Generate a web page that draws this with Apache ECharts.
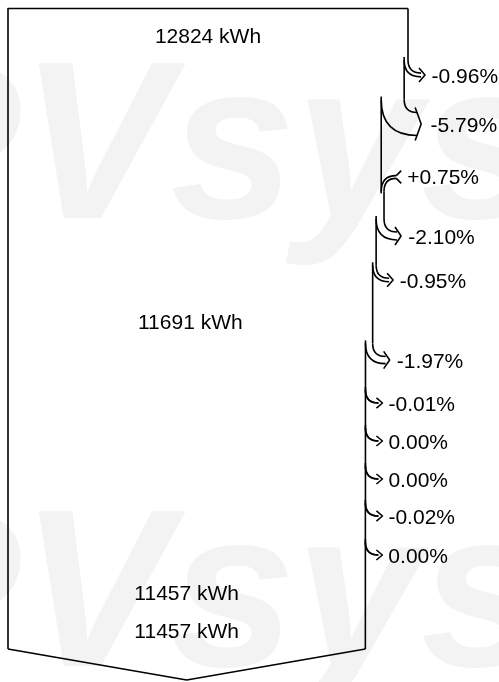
<!DOCTYPE html>
<html>
<head>
<meta charset="utf-8">
<script src="https://cdn.jsdelivr.net/npm/echarts@6/dist/echarts.min.js"></script>
<style>
  html, body { margin: 0; padding: 0; background: #fff; }
  #chart { width: 499px; height: 682px; }
</style>
</head>
<body>
<div id="chart"></div>
<script>
// Energy flow: starting energy, then each gain / loss step in percent
const initialEnergy = 12824;
const stepLabels = ['-0.96%', '-5.79%', '+0.75%', '-2.10%', '-0.95%', '-1.97%', '-0.01%', '0.00%', '0.00%', '-0.02%', '0.00%'];
const stepPct = [-0.96, -5.79, 0.75, -2.10, -0.95, -1.97, -0.01, 0.00, 0.00, -0.02, 0.00];

// Energy totals printed inside the flow, and the stage each one belongs to
const energyLabels = ['12824 kWh', '11691 kWh', '11457 kWh', '11457 kWh'];
const energyValues = [12824, 11691, 11457, 11457];
const energyStage = [0, 5, 11, 11];

// Vertical layout of the diagram, in depth units of the hidden y axis
const stepRowY = [77, 126, 178, 238, 282, 362, 405, 443, 481, 518, 557];
const energyRowY = [37, 323, 594, 632];
const frame = { top: 8.5, corner: 649, point: 680 };

// Energy carried by the flow after every step
const totals = {};
energyStage.forEach((s, k) => { totals[s] = energyValues[k]; });
const stages = [initialEnergy];
stepPct.forEach((p, i) => {
  let e = stages[i] * (1 + p / 100);
  if (totals[i + 1] != null) e = totals[i + 1];
  stages.push(e);
});

const FONT = '"Liberation Sans", Arial, sans-serif';
const INK = '#000';
const LW = 1.6;
const DROP = 13;   // height of an arrow bend
const RUN = 13;    // horizontal reach of an arrow bend

function renderDiagram(params, api) {
  const X = e => api.coord([e, 0])[0];
  const Y = d => api.coord([0, d])[1];
  const kids = [];
  const stroke = d => kids.push({
    type: 'path', shape: { pathData: d },
    style: { fill: 'none', stroke: INK, lineWidth: LW, lineJoin: 'round', lineCap: 'butt' }
  });
  const label = (text, x, y, align) => kids.push({
    type: 'text', x, y,
    style: { text, fill: INK, fontSize: 21, fontFamily: FONT, align, verticalAlign: 'middle' }
  });

  const n = stepPct.length;
  const x0 = X(0);
  const xEnd = X(stages[n]);
  const top = Y(frame.top), corner = Y(frame.corner), point = Y(frame.point);

  // geometry of every step arrow
  const geo = stepPct.map((p, i) => {
    const xa = X(stages[i]), xb = X(stages[i + 1]);
    const gain = p > 0;
    const w = Math.abs(xa - xb);
    const yt = Y(stepRowY[i]) - (gain ? 1 : 2);
    return {
      gain, xa, xb, w, yt,
      bendTop: yt - w / 2 - DROP,   // where a loss leaves the flow
      join: yt + w / 2 + DROP        // where a gain enters the flow
    };
  });

  // left side, top edge and the closing chevron at the bottom
  stroke(`M${x0},${corner} L${x0},${top} L${X(stages[0])},${top}`);
  stroke(`M${x0},${corner} L${(x0 + xEnd) / 2},${point} L${xEnd},${corner}`);

  // right side: one vertical run per stage
  for (let s = 0; s <= n; s++) {
    const xs = X(stages[s]);
    let y1, y2;
    if (s === 0) y1 = top;
    else {
      const g = geo[s - 1];
      y1 = g.gain ? g.join : g.bendTop - 3;
    }
    if (s === n) y2 = corner;
    else {
      const g = geo[s];
      y2 = g.gain ? g.join + 2 : g.bendTop;
    }
    stroke(`M${xs},${y1} L${xs},${y2}`);
  }

  // step arrows and their labels
  geo.forEach((g, i) => {
    const { xa, xb, w, yt } = g;
    if (!g.gain) {
      const xe = xa + RUN;
      stroke(`M${xa},${g.bendTop} Q${xa},${yt - w / 2} ${xe},${yt - w / 2}`);
      stroke(`M${xb},${g.bendTop} Q${xb},${yt + w / 2} ${xe},${yt + w / 2}`);
      stroke(`M${xe - 2},${yt - w / 2 - 5} L${xe + 4},${yt} L${xe - 2},${yt + w / 2 + 5}`);
      label(stepLabels[i], xe + 10 + w * 0.15, Y(stepRowY[i]), 'left');
    } else {
      const xe = xa + RUN + 2;
      stroke(`M${xe},${yt - w / 2} Q${xa},${yt - w / 2} ${xa},${g.join}`);
      stroke(`M${xe},${yt + w / 2} Q${xb},${yt + w / 2} ${xb},${g.join}`);
      stroke(`M${xe + 5},${yt - w / 2 - 5} L${xe},${yt - w / 2} M${xe},${yt + w / 2} L${xe + 5},${yt + w / 2 + 5}`);
      label(stepLabels[i], xe + 11, Y(stepRowY[i]), 'left');
    }
  });

  // energy totals centred in the flow
  energyLabels.forEach((t, k) => {
    const xr = X(stages[energyStage[k]]);
    label(t, (x0 + xr) / 2, Y(energyRowY[k]), 'center');
  });

  return { type: 'group', children: kids };
}

const MARK_FONT = 'italic bold 225px "Liberation Sans", Arial, sans-serif';
const chart = echarts.init(document.getElementById('chart'), null, { renderer: 'canvas' });
chart.setOption({
  backgroundColor: '#fff',
  animation: false,
  grid: { left: 8, top: 0, width: 400, height: 682 },
  xAxis: { type: 'value', min: 0, max: initialEnergy, show: false },
  yAxis: { type: 'value', min: 0, max: 682, inverse: true, show: false },
  graphic: [
    { type: 'text', x: -130, y: 156, z: 0, silent: true,
      style: { text: 'PVsyst', fill: '#f3f3f3', font: MARK_FONT, verticalAlign: 'middle' } },
    { type: 'text', x: -130, y: 604, z: 0, silent: true,
      style: { text: 'PVsyst', fill: '#f3f3f3', font: MARK_FONT, verticalAlign: 'middle' } }
  ],
  series: [{
    type: 'custom',
    z: 5,
    silent: true,
    clip: false,
    coordinateSystem: 'cartesian2d',
    renderItem: renderDiagram,
    data: [[0, 0]]
  }]
});
</script>
</body>
</html>
